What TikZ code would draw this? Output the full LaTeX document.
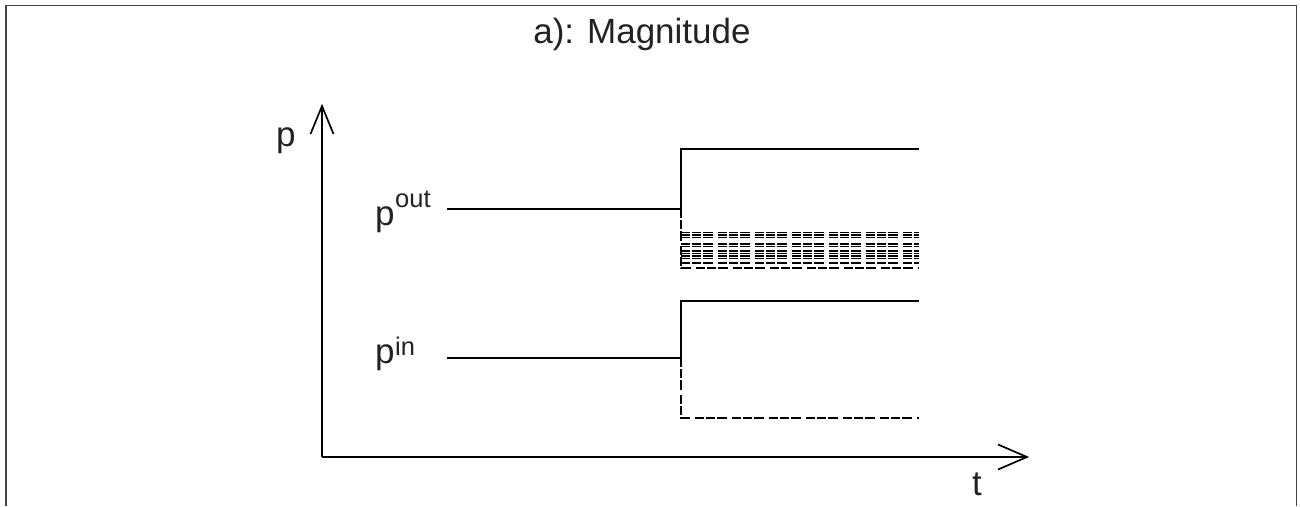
\documentclass[tikz,border=0pt]{standalone}
\usepackage{fontspec}
\setmainfont{Liberation Sans}
\definecolor{txt}{HTML}{222222}
\definecolor{frm}{HTML}{444444}
\begin{document}
\begin{tikzpicture}[x=1pt,y=-1pt,
  lbl/.style={inner sep=0pt, text=txt, font=\fontsize{35}{42}\selectfont},
  suplbl/.style={inner sep=0pt, text=txt, font=\fontsize{25.5}{30}\selectfont},
  axis/.style={line width=1.7pt, black},
  sol/.style={line width=1.9pt, black},
  dsh/.style={line width=1.7pt, black, dash pattern=on 9pt off 2pt on 9pt off 2pt on 10pt off 5pt},
  hatch/.style={line width=1.4pt, black, dash pattern=on 9pt off 2pt on 9pt off 2pt on 10pt off 5pt}]
\useasboundingbox (0,0) rectangle (1300,506);
% frame (open at bottom)
\draw[frm, line width=1.2pt] (6,506) -- (6,5.5) -- (1296.5,5.5) -- (1296.5,506);
% title
\node[lbl] (title) at (642,43) [anchor=base] {a): Magnitude};
% axes
\coordinate (O) at (322,457);
\coordinate (ytip) at (322,106);
\coordinate (xtip) at (1027,457);
\draw[axis] (O) -- (ytip);
\draw[axis] (O) -- (xtip);
\draw[axis, line join=miter] (310.5,134) -- (ytip) -- (333.5,134);
\draw[axis, line join=miter] (998,444.5) -- (xtip) -- (998,469.5);
\node[lbl, anchor=base west] (plab) at (276,146) {p};
\node[lbl, anchor=base west] (tlab) at (972,495) {t};
% p out
\node[lbl, anchor=base west] (pout) at (375,225) {p};
\node[suplbl, anchor=base west] (outsup) at (395,207) {out};
\coordinate (o1) at (447,209);
\coordinate (o2) at (681,209);
\coordinate (o3) at (681,149);
\coordinate (o4) at (919,149);
\coordinate (o5) at (681,268);
\coordinate (o6) at (919,268);
\draw[sol] (o1) -- (o2) -- (o3) -- (o4);
\draw[dsh] (o2) -- (o5) -- (o6);
\foreach \yy in {232.5,235,237.5,244,246.5,251,253.5,256,258.5,263}
  \draw[hatch] (681,\yy) -- (919,\yy);
% p in
\node[lbl, anchor=base west] (pin) at (375,363) {p};
\node[suplbl, anchor=base west] (insup) at (395,355) {in};
\coordinate (i1) at (447,358);
\coordinate (i2) at (681,358);
\coordinate (i3) at (681,301);
\coordinate (i4) at (919,301);
\coordinate (i5) at (681,418);
\coordinate (i6) at (919,418);
\draw[sol] (i1) -- (i2) -- (i3) -- (i4);
\draw[dsh] (i2) -- (i5) -- (i6);
\end{tikzpicture}
\end{document}
